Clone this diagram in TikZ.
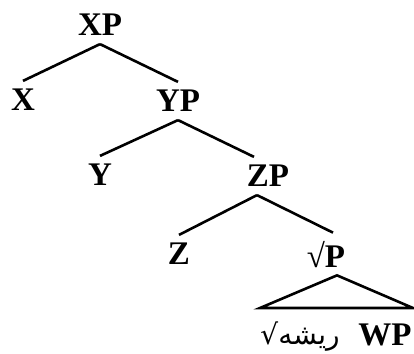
\documentclass[tikz,border=0pt]{standalone}
\usepackage{fontspec}
\setmainfont{Liberation Serif}
\newfontfamily\arabicfont[Script=Arabic]{DejaVu Sans}
\TeXXeTstate=1
\usepackage{tikz}

\begin{document}
\begin{tikzpicture}[x=1pt,y=-1pt,line width=2.6pt,
	lbl/.style={inner sep=7pt,text depth=0pt,font=\fontsize{33}{40}\selectfont\bfseries}]
	\useasboundingbox (0,0) rectangle (414,353);
	\node[lbl] (xp) at (100,25) {XP};
	\node[lbl] (x) at (23,100) {X};
	\node[lbl] (yp) at (178,101) {YP};
	\node[lbl] (y) at (100,175) {Y};
	\node[lbl] (zp) at (268,176) {ZP};
	\node[lbl] (z) at (179,254) {Z};
	\node[lbl] (rp) at (326,254) {√P};
	\node[lbl,inner sep=2pt,font=\fontsize{28}{34}\selectfont] (root) at (300,333) {\arabicfont\beginR ریشه√\endR};
	\node[lbl,inner sep=2pt] (wp) at (385,335) {WP};
	\coordinate (tl) at (260,308);
	\coordinate (tr) at (413,308);
	\draw (xp.south)--(x.north);
	\draw (xp.south)--(yp.north);
	\draw (yp.south)--(y.north);
	\draw (yp.south)--([xshift=-14pt]zp.north);
	\draw ([xshift=-11pt]zp.south)--(z.north);
	\draw ([xshift=-11pt]zp.south)--([xshift=7pt]rp.north);
	\draw[line join=miter] ([xshift=11pt]rp.south)--(tl)--(tr)--cycle;
\end{tikzpicture}
\end{document}
